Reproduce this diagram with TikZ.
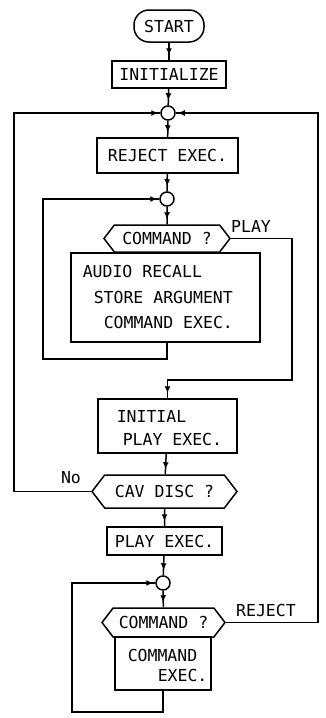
\documentclass[tikz,border=0pt]{standalone}
\usepackage{fontspec}
\setmonofont{DejaVu Sans Mono}
\usetikzlibrary{arrows.meta,shapes.symbols,decorations.markings}

\begin{document}
\begin{tikzpicture}[x=1pt,y=-1pt,line width=1.5pt,
  every node/.style={font=\ttfamily\fontsize{16.5}{19}\selectfont},
  box/.style={draw,rectangle,inner sep=0pt},
  term/.style={draw,rectangle,rounded corners=15pt,inner sep=0pt},
  junct/.style={draw,circle,minimum size=14pt,inner sep=0pt},
  hexa/.style={draw,signal,signal to=west and east,signal pointer angle=105,inner sep=0pt},
  txt/.style={inner sep=0pt,anchor=west},
  flow/.style={postaction={decorate,decoration={markings,
    mark=at position -5pt with {\arrow{Latex[length=7pt,width=6pt]}}}}},
  into/.style={postaction={decorate,decoration={markings,
    mark=at position -2pt with {\arrow{Latex[length=7pt,width=6pt]}}}}}]
  \useasboundingbox (0,0) rectangle (325,718);

  % main column
  \node[term,minimum width=70pt,minimum height=32pt] (start) at (169,26) {START};
  \node[box,minimum width=114pt,minimum height=27pt] (init) at (169,74.5) {INITIALIZE};
  \node[junct] (j1) at (168,113) {};
  \node[box,minimum width=141pt,minimum height=35pt] (rej) at (167.5,155.5) {REJECT EXEC.};
  \node[junct] (j2) at (167,199) {};
  \node[hexa,minimum width=126pt,minimum height=27pt] (cmdA) at (167,238.5) {COMMAND ?};
  \node[box,minimum width=189pt,minimum height=89pt] (execA) at (165.5,297.5) {};
  \node[txt] (audio) at (82,271) {AUDIO RECALL};
  \node[txt] (store) at (93,297) {STORE ARGUMENT};
  \node[txt] (cexA) at (103,322) {COMMAND EXEC.};
  \node[box,minimum width=139pt,minimum height=54pt] (iplay) at (167.5,426) {};
  \node[txt] (initial) at (116,416) {INITIAL};
  \node[txt] (pexA) at (122,439) {PLAY EXEC.};
  \node[hexa,minimum width=145pt,minimum height=33pt] (cav) at (164.5,491.5) {CAV DISC ?};
  \node[box,minimum width=115pt,minimum height=28pt] (play) at (164.5,541) {PLAY EXEC.};
  \node[junct] (j3) at (163,583) {};
  \node[hexa,minimum width=123pt,minimum height=29pt] (cmdB) at (163.5,622.5) {COMMAND ?};
  \node[box,minimum width=96pt,minimum height=53pt] (execB) at (163,663.5) {};
  \node[txt] (cmdword) at (127,655) {COMMAND};
  \node[txt] (execword) at (157,675) {EXEC.};

  % branch labels
  \node[inner sep=0pt] (lplay) at (251,226) {PLAY};
  \node[inner sep=0pt] (lno) at (71,478) {No};
  \node[inner sep=0pt] (lrej) at (266,610) {REJECT};

  % loop corners
  \coordinate (loopA) at (43,359);
  \coordinate (playR) at (292,380);
  \coordinate (outL) at (14,113);
  \coordinate (loopB) at (72,712);
  \coordinate (outR) at (318,113);

  \draw[flow] (start) -- (init);
  \draw[flow] (init) -- (j1);
  \draw[flow] (j1) -- (rej);
  \draw[flow] (rej) -- (j2);
  \draw[flow] (j2) -- (cmdA);
  \draw[into] (execA.south -| j2) |- (loopA) |- (j2.west);
  \draw[flow] (cmdA.east) -| (playR) -| (iplay.north);
  \draw[flow] (iplay) -- (cav);
  \draw[into] (cav.west) -| (outL) -- (j1.west);
  \draw[flow] (cav) -- (play);
  \draw[flow] (play) -- (j3);
  \draw[flow] (j3) -- (cmdB);
  \draw[into] (execB.south -| j3) |- (loopB) |- (j3.west);
  \draw[into] (cmdB.east) -| (outR) -- (j1.east);
\end{tikzpicture}
\end{document}
